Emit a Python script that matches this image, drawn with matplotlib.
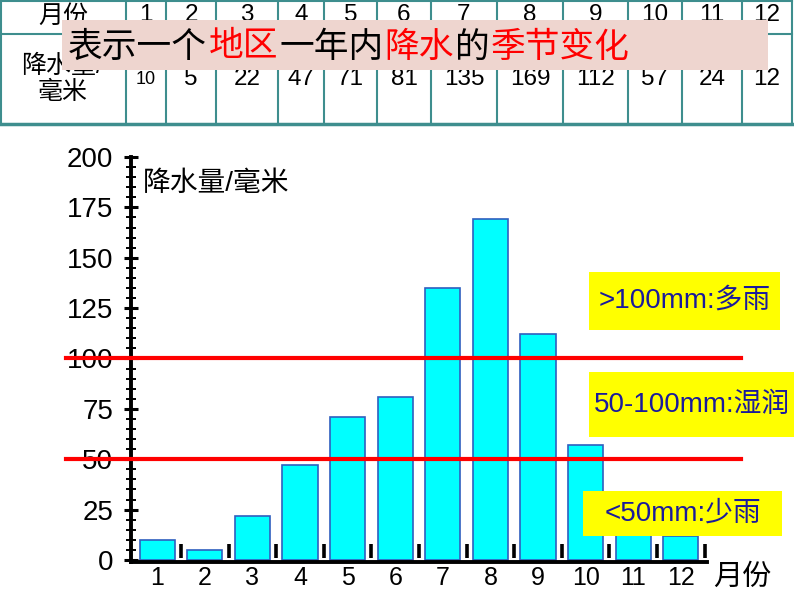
import numpy as np
import matplotlib
matplotlib.use('Agg')
import matplotlib.pyplot as plt
from matplotlib.patches import Rectangle

plt.rcParams['font.family'] = ['Liberation Sans', 'Noto Sans CJK SC', 'DejaVu Sans']

# ---- dados ----
months = [1, 2, 3, 4, 5, 6, 7, 8, 9, 10, 11, 12]
precip = [10, 5, 22, 47, 71, 81, 135, 169, 112, 57, 24, 12]
month_labels = [str(m) for m in months]
yticks = [0, 25, 50, 75, 100, 125, 150, 175, 200]
thresholds = [100, 50]
title_parts = [('表示一个', 'black'), ('地区', 'red'), ('一年内', 'black'),
               ('降水', 'red'), ('的', 'black'), ('季节变化', 'red')]
box_texts = ['>100mm:多雨', '50-100mm:湿润', '<50mm:少雨']

W, H = 794, 596
fig = plt.figure(figsize=(W / 100, H / 100), dpi=100)

# ---- fundo em pixels: tabela + faixa de titulo ----
bg = fig.add_axes([0, 0, 1, 1], zorder=0)
bg.set_xlim(0, W)
bg.set_ylim(H, 0)
bg.axis('off')

teal = '#3e8e8e'
col_edges = [1, 126, 166, 216, 278, 324, 377, 431, 497, 563, 628, 682, 742, 792]
for x in col_edges:
    bg.plot([x, x], [0, 124], color=teal, lw=1.5)
bg.plot([1, 792], [1, 1], color=teal, lw=1.5)
bg.plot([1, 792], [34, 34], color=teal, lw=1.5)
bg.plot([1, 792], [124, 124], color=teal, lw=2.5)

bg.text(63, 16, '月份', ha='center', va='center', fontsize=18)
bg.text(62, 66, '降水量/', ha='center', va='center', fontsize=18)
bg.text(63, 92, '毫米', ha='center', va='center', fontsize=18)
for i, (lab, v) in enumerate(zip(month_labels, precip)):
    xc = (col_edges[i + 1] + col_edges[i + 2]) / 2
    bg.text(xc, 15, lab, ha='center', va='center', fontsize=17.5)
    bg.text(xc, 79, str(v), ha='center', va='center',
            fontsize=13 if i == 0 else 17.5)

# faixa rosa do titulo (por cima da tabela)
bg.add_patch(Rectangle((62, 20), 706, 50, facecolor='#eed5cf',
                       edgecolor='none', zorder=5))
x0 = 68
for txt, c in title_parts:
    bg.text(x0, 47, txt, ha='left', va='center', fontsize=25, color=c,
            zorder=6)
    x0 += 35.2 * len(txt)

# ---- grafico de barras ----
ax = fig.add_axes([131 / W, (H - 562) / H, 576 / W, 405 / H], zorder=1)
ax.patch.set_alpha(0)
ax.bar(months, precip, width=0.74, color='#00ffff', edgecolor='#2f5fbf',
       linewidth=1.2, zorder=2)
ax.set_xlim(0.45, 12.55)
ax.set_ylim(-1, 200)

for s in ['top', 'right']:
    ax.spines[s].set_visible(False)
for s in ['left', 'bottom']:
    ax.spines[s].set_linewidth(2.8)
ax.spines['left'].set_bounds(-1, 200)

ax.set_yticks(yticks)
ax.set_yticks(np.arange(0, 201, 5), minor=True)
ax.tick_params(axis='y', which='major', direction='inout', length=9.5,
               width=2.2, labelsize=20, pad=8)
ax.tick_params(axis='y', which='minor', direction='inout', length=7, width=1.4)

ax.set_xticks(months)
ax.set_xticklabels(month_labels)
ax.tick_params(axis='x', length=0, labelsize=18, pad=3)

# marcas entre os meses
ax.vlines(np.array(months) + 0.5, 1, 8, color='black', lw=2.6, zorder=3)

# linhas vermelhas dos limites
for th in thresholds:
    ax.plot([-0.113, 1.059], [th, th], color='#ff0000', lw=3,
            transform=ax.get_yaxis_transform(), clip_on=False, zorder=4)

ax.text(143, 184, '降水量/毫米', transform=bg.transData, ha='left',
        va='center', fontsize=20)
ax.text(713, 577, '月份', transform=bg.transData, ha='left', va='center',
        fontsize=21)

# ---- caixas amarelas ----
ov = fig.add_axes([0, 0, 1, 1], zorder=2)
ov.set_xlim(0, W)
ov.set_ylim(H, 0)
ov.axis('off')
boxes = [(589, 272, 191, 58), (589, 372, 205, 65), (583, 491, 199, 45)]
for (bx, by, bw, bh), txt in zip(boxes, box_texts):
    ov.add_patch(Rectangle((bx, by), bw, bh, facecolor='#ffff00', edgecolor='none'))
    ov.text(bx + bw / 2, by + bh / 2, txt, ha='center', va='center',
            fontsize=20, color='#1a1a9c')

fig.savefig('out.png', dpi=100)
